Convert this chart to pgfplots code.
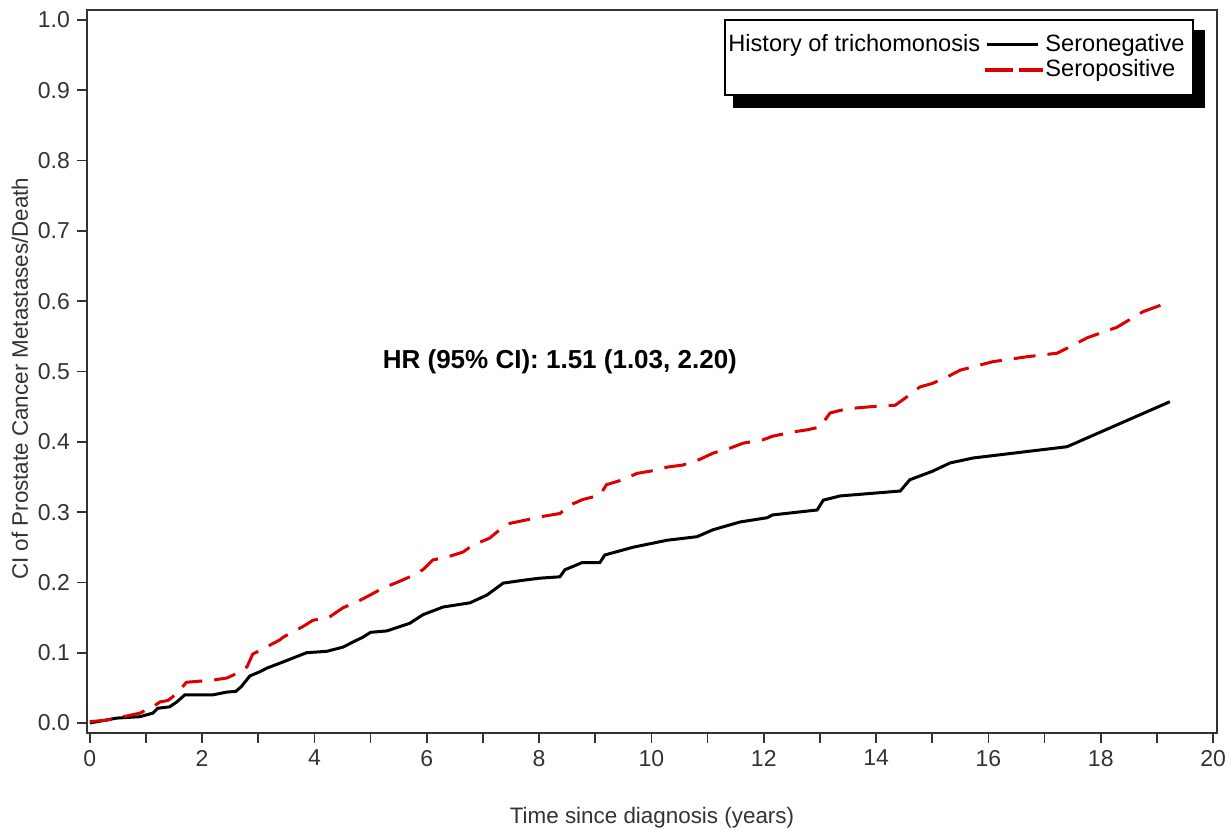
\documentclass[border=0pt]{standalone}
\usepackage{pgfplots}
\pgfplotsset{compat=1.18}
\usepackage{fontspec}
\setmainfont{Liberation Sans}
\definecolor{axgray}{HTML}{333333}
\definecolor{sasred}{HTML}{DD0000}

\begin{document}
\begin{tikzpicture}
% picture frame: 1 px of the reference = 0.5pt, axis box SW corner at origin
\useasboundingbox (-43.5pt,-51pt) rectangle (571.5pt,366.5pt);
\begin{axis}[
    scale only axis,
    width=565pt, height=361.5pt,
    xmin=-0.05, xmax=20.07,
    ymin=-0.0142, ymax=1.0142,
    xtick={0,2,...,20},
    minor xtick={1,3,...,19},
    ytick={0,0.1,...,1.0},
    yticklabel style={/pgf/number format/.cd, fixed, fixed zerofill, precision=1},
    /pgf/number format/assume math mode=true,
    tick pos=left,
    tick align=outside,
    major tick length=5pt,
    minor tick length=5pt,
    every tick/.style={axgray, line width=0.8pt},
    axis line style={axgray, line width=1pt},
    ticklabel style={font=\fontsize{11.5}{13}\selectfont, text=axgray},
    label style={font=\fontsize{11.2}{13}\selectfont, text=axgray},
    xlabel={Time since diagnosis (years)},
    ylabel={CI of Prostate Cancer Metastases/Death},
    xlabel style={at={(axis description cs:0.5,-0.1176)}, anchor=center},
    ylabel style={at={(axis description cs:-0.0593,0.49)}, anchor=center},
    clip=false,
]
% Seronegative
\addplot[black, line width=1.5pt] coordinates {
(0,0)(0.48,0.007)(0.89,0.009)(1.12,0.014)(1.21,0.021)(1.42,0.023)(1.55,0.03)
(1.69,0.04)(2.19,0.04)(2.44,0.044)(2.6,0.045)(2.7,0.052)(2.85,0.067)(3.03,0.073)
(3.15,0.078)(3.38,0.085)(3.86,0.1)(4.22,0.102)(4.51,0.108)(4.68,0.115)(4.86,0.122)
(5.0,0.129)(5.29,0.131)(5.7,0.142)(5.93,0.154)(6.29,0.165)(6.77,0.171)(7.07,0.182)
(7.36,0.199)(7.71,0.203)(8.01,0.206)(8.37,0.208)(8.46,0.218)(8.76,0.228)(9.08,0.228)
(9.17,0.239)(9.67,0.25)(10.28,0.26)(10.81,0.265)(11.1,0.275)(11.58,0.286)(12.06,0.292)
(12.16,0.296)(12.95,0.303)(13.06,0.317)(13.36,0.323)(14.43,0.330)(14.6,0.346)
(15.0,0.358)(15.32,0.370)(15.73,0.377)(17.4,0.393)(19.23,0.457)
};
% Seropositive
\addplot[sasred, line width=1.5pt, dash pattern=on 11pt off 6pt] coordinates {
(0,0.002)(0.3,0.004)(0.89,0.014)(1.12,0.023)(1.25,0.03)(1.39,0.032)(1.55,0.042)
(1.72,0.058)(2.19,0.061)(2.44,0.064)(2.55,0.068)(2.8,0.08)(2.9,0.098)(3.38,0.118)
(3.44,0.122)(3.79,0.137)(3.97,0.146)(4.27,0.151)(4.51,0.164)(4.75,0.172)(4.99,0.182)
(5.22,0.192)(5.47,0.2)(5.7,0.208)(5.93,0.218)(6.11,0.232)(6.36,0.236)(6.64,0.243)
(6.82,0.253)(7.12,0.263)(7.3,0.275)(7.48,0.284)(7.78,0.289)(8.07,0.294)(8.37,0.298)
(8.55,0.31)(8.78,0.318)(9.08,0.324)(9.2,0.339)(9.49,0.346)(9.74,0.355)(10.03,0.359)
(10.28,0.364)(10.56,0.367)(10.86,0.375)(11.1,0.384)(11.4,0.391)(11.63,0.398)
(11.99,0.403)(12.16,0.408)(12.52,0.414)(12.77,0.417)(13.0,0.421)(13.18,0.441)
(13.48,0.447)(14.07,0.451)(14.34,0.452)(14.55,0.464)(14.78,0.478)(15.0,0.483)
(15.26,0.492)(15.5,0.502)(16.08,0.514)(16.69,0.521)(17.22,0.526)(17.45,0.535)
(17.76,0.548)(18.29,0.563)(18.75,0.585)(19.23,0.599)
};
\node[font=\bfseries\fontsize{13}{15}\selectfont] at (axis cs:8.37,0.514) {HR (95\% CI): 1.51 (1.03, 2.20)};
\end{axis}
% legend, drawn in reference pixel coordinates (y downwards)
\begin{scope}[shift={(-43.5pt,366.5pt)}, x=0.5pt, y=-0.5pt,
    font=\fontsize{11.8}{13}\selectfont]
  \fill[black] (733,30) rectangle (1205,108);
  \draw[fill=white, line width=0.7pt] (725,20) rectangle (1193,95);
  \node[anchor=west, inner sep=0pt] at (728,45) {History of trichomonosis};
  \draw[black, line width=1.5pt] (987,45) -- (1038,45);
  \node[anchor=west, inner sep=0pt] at (1045,45) {Seronegative};
  \draw[sasred, line width=2pt, dash pattern=on 14pt off 3pt] (985,70) -- (1043,70);
  \node[anchor=west, inner sep=0pt] at (1045,70) {Seropositive};
\end{scope}
\end{tikzpicture}
\end{document}
